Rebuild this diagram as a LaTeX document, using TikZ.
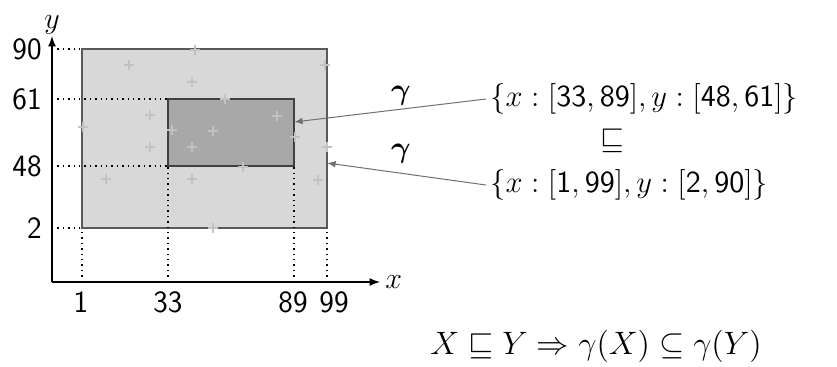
\RequirePackage{fix-cm}
\documentclass[tikz,border=0pt]{standalone}
\usepackage{amsmath, amssymb}
\usetikzlibrary{calc}
\definecolor{OuterCol}{HTML}{D8D8D8}
\definecolor{InnerCol}{HTML}{A8A8A8}
\definecolor{PlusCol}{HTML}{C2C2C2}
\definecolor{LinkCol}{HTML}{707070}
\newcommand{\dg}[1]{\textsf{#1}}

\tikzset{
	tick/.style = {font = \fontsize{15.5}{18}\selectfont\sffamily, inner sep = 1pt},
	guide/.style = {dotted, line width = 0.7pt},
	axis/.style = {line width = 0.8pt, -latex},
	plusmark/.style = {PlusCol, line width = 1.2pt},
	abstr/.style = {font = \fontsize{15.3}{18}\selectfont, anchor = west, inner sep = 2pt},
	link/.style = {LinkCol, line width = 0.5pt, -latex},
}

\begin{document}
\begin{tikzpicture}[x = 0.5pt, y = -0.5pt]
	\useasboundingbox (0, 0) rectangle (837, 366);
	\coordinate (o) at (52, 282);
	% the two boxes
	\filldraw[fill = OuterCol, draw = black!65, line width = 0.6pt] (82, 49) rectangle (327, 228);
	\filldraw[fill = InnerCol, draw = black!75, line width = 0.6pt] (168, 99) rectangle (294, 166);
	\coordinate (innerE) at (294, 122);
	\coordinate (outerE) at (327, 163);
	% sample points
	\foreach \px/\py in {195/50, 129/65, 192/82, 225/99, 150/115, 277/116, 83/127, 172/130, 213/131, 150/147, 192/147, 295/137, 327/147, 325/65, 243/167, 106/179, 192/179, 318/180, 213/228} {
			\draw[plusmark] (\px - 5, \py) -- (\px + 5, \py) (\px, \py - 5) -- (\px, \py + 5);
		}
	% guides
	\draw[guide] (o |- 0, 49) -- (82, 49);
	\draw[guide] (o |- 0, 228) -- (82, 228);
	\draw[guide] (o |- 0, 99) -- (168, 99);
	\draw[guide] (o |- 0, 166) -- (168, 166);
	\draw[guide] (82, 282) -- (82, 228);
	\draw[guide] (327, 282) -- (327, 228);
	\draw[guide] (168, 282) -- (168, 166);
	\draw[guide] (294, 282) -- (294, 166);
	% axes
	\draw[axis] (o) -- (52, 36) node[above = -3pt, font = \fontsize{15}{17}\selectfont] (ylab) {$y$};
	\draw[axis] (o) -- (380, 282) node[right = -1pt, font = \fontsize{15}{17}\selectfont] (xlab) {$x$};
	\foreach \v/\py in {90/49, 61/99, 48/166, 2/228} {
			\node[tick, anchor = east] (y\v) at (44, \py) {\v};
		}
	\foreach \v/\px in {1/81, 33/168, 89/293, 99/334} {
			\node[tick, anchor = north] (x\v) at (\px, 289) {\v};
		}
	% abstract values
	\node[abstr] (inner) at (486, 99) {$\{x : [\dg{33}, \dg{89}], y : [\dg{48}, \dg{61}]\}$};
	\node[font = \fontsize{15.3}{18}\selectfont] (order) at (612, 141) {$\sqsubseteq$};
	\node[abstr] (outer) at (486, 185) {$\{x : [\dg{1}, \dg{99}], y : [\dg{2}, \dg{90}]\}$};
	\draw[link] (inner.west) -- (innerE);
	\draw[link] (outer.west) -- (outerE);
	\node[font = \fontsize{15}{17}\selectfont] (g1) at (401, 96) {$\boldsymbol{\gamma}$};
	\node[font = \fontsize{15}{17}\selectfont] (g2) at (401, 154) {$\boldsymbol{\gamma}$};
	\node[font = \fontsize{16.2}{19}\selectfont] (law) at (596, 346) {$X \sqsubseteq Y \Rightarrow \gamma(X) \subseteq \gamma(Y)$};
\end{tikzpicture}
\end{document}
